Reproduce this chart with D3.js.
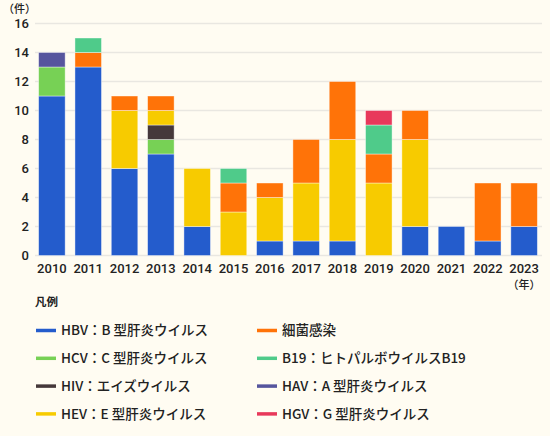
<!DOCTYPE html>
<html>
<head>
<meta charset="utf-8">
<script src="https://cdn.jsdelivr.net/npm/d3@7"></script>
<style>
  body { margin: 0; background: #fffcf2; }
  svg { display: block; font-family: "Noto Sans CJK JP", "Noto Sans", sans-serif; }
</style>
</head>
<body>
<svg id="drawing_region"></svg>
<script>
const years = ["2010","2011","2012","2013","2014","2015","2016","2017","2018","2019","2020","2021","2022","2023"];
const series_keys = ["HBV","HCV","HIV","HEV","BAC","B19","HAV","HGV"];
const series_labels = ["HBV：B 型肝炎ウイルス","HCV：C 型肝炎ウイルス","HIV：エイズウイルス","HEV：E 型肝炎ウイルス",
                       "細菌感染","B19：ヒトパルボウイルスB19","HAV：A 型肝炎ウイルス","HGV：G 型肝炎ウイルス"];
const series_colors = ["#245ccc","#77d155","#45383a","#f7cb00","#ff7308","#4fcb8a","#56559e","#e8395b"];

const hbv = [11,13,6,7,2,0,1,1,1,0,2,2,1,2];
const hcv = [2,0,0,1,0,0,0,0,0,0,0,0,0,0];
const hiv = [0,0,0,1,0,0,0,0,0,0,0,0,0,0];
const hev = [0,0,4,1,4,3,3,4,7,5,6,0,0,0];
const bac = [0,1,1,1,0,2,1,3,4,2,2,0,4,3];
const b19 = [0,1,0,0,0,1,0,0,0,2,0,0,0,0];
const hav = [1,0,0,0,0,0,0,0,0,0,0,0,0,0];
const hgv = [0,0,0,0,0,0,0,0,0,1,0,0,0,0];
const y_ticks = [0,2,4,6,8,10,12,14,16];

const series_values = [hbv,hcv,hiv,hev,bac,b19,hav,hgv];
const table = years.map((y, i) => {
    const row = { year: y };
    series_keys.forEach((k, j) => { row[k] = series_values[j][i]; });
    return row;
});

const width = 550, height = 436;
const svg = d3.select('#drawing_region')
    .attr('width', width)
    .attr('height', height);

const xscale = d3.scaleBand()
    .domain(years)
    .range([35, 541])
    .paddingInner(0.27)
    .paddingOuter(0.1);

const yscale = d3.scaleLinear()
    .domain([0, 16])
    .range([255.5, 23.5]);

// gridlines
svg.append('g')
    .selectAll('line')
    .data(y_ticks)
    .join('line')
    .attr('x1', 35)
    .attr('x2', 542)
    .attr('y1', d => yscale(d))
    .attr('y2', d => yscale(d))
    .attr('stroke', '#e9e7e1')
    .attr('stroke-width', 1.5);

// y tick labels
svg.append('g')
    .selectAll('text')
    .data(y_ticks)
    .join('text')
    .attr('x', 29)
    .attr('y', d => yscale(d))
    .attr('dy', '0.36em')
    .attr('text-anchor', 'end')
    .attr('font-family', 'Roboto, sans-serif')
    .attr('font-size', 13)
    .attr('font-weight', 500)
    .attr('fill', '#222')
    .text(d => d);

svg.append('text')
    .attr('x', 3)
    .attr('y', 13)
    .attr('font-size', 11)
    .attr('font-weight', 500)
    .attr('fill', '#222')
    .text('（件）');

// stacked bars
const stack = d3.stack().keys(series_keys)(table);
svg.append('g')
    .selectAll('g')
    .data(stack)
    .join('g')
    .attr('fill', (d, i) => series_colors[i])
    .selectAll('rect')
    .data(d => d.filter(s => s[1] - s[0] > 0))
    .join('rect')
    .attr('x', d => xscale(d.data.year))
    .attr('y', d => yscale(d[1]))
    .attr('width', xscale.bandwidth())
    .attr('height', d => yscale(d[0]) - yscale(d[1]))
    .attr('stroke', '#ffffff')
    .attr('stroke-opacity', 0.5)
    .attr('stroke-width', 0.8);

// x tick labels
svg.append('g')
    .selectAll('text')
    .data(years)
    .join('text')
    .attr('x', d => xscale(d) + xscale.bandwidth() / 2)
    .attr('y', 273)
    .attr('text-anchor', 'middle')
    .attr('font-family', 'Roboto, sans-serif')
    .attr('font-size', 13)
    .attr('font-weight', 500)
    .attr('fill', '#222')
    .text(d => d);

svg.append('text')
    .attr('x', xscale('2023') + xscale.bandwidth() / 2)
    .attr('y', 289)
    .attr('text-anchor', 'middle')
    .attr('font-size', 11)
    .attr('font-weight', 500)
    .attr('fill', '#222')
    .text('（年）');

// legend
svg.append('text')
    .attr('x', 35)
    .attr('y', 306)
    .attr('font-size', 11.5)
    .attr('font-weight', 'bold')
    .attr('fill', '#222')
    .text('凡例');

// two columns: left HBV, HCV, HIV, HEV / right 細菌, B19, HAV, HGV
const legend_order = [0,4,1,5,2,6,3,7];
const legend = svg.append('g')
    .selectAll('g')
    .data(legend_order)
    .join('g')
    .attr('transform', (idx, k) => `translate(${k % 2 === 0 ? 36 : 257}, ${330.5 + Math.floor(k / 2) * 27.8})`);

legend.append('line')
    .attr('x1', 0)
    .attr('x2', 20)
    .attr('stroke', idx => series_colors[idx])
    .attr('stroke-width', 3.5);

legend.append('text')
    .attr('x', 25)
    .attr('dy', '0.36em')
    .attr('font-size', 13.5)
    .attr('font-weight', 500)
    .attr('fill', '#222')
    .text(idx => series_labels[idx]);
</script>
</body>
</html>
